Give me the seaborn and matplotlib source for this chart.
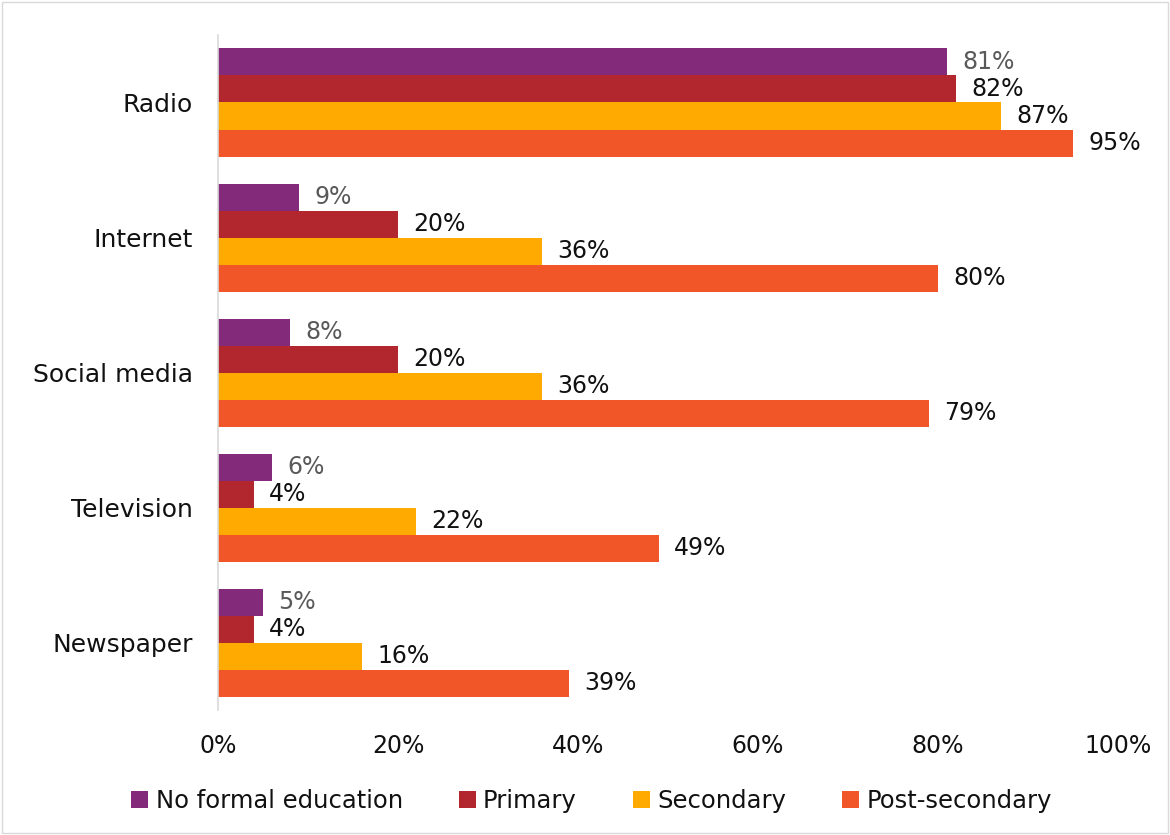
import seaborn as sns
import matplotlib.pyplot as plt
import pandas as pd
from matplotlib.patches import Rectangle

# data
sources = ["Radio", "Internet", "Social media", "Television", "Newspaper"]
levels = ["No formal education", "Primary", "Secondary", "Post-secondary"]
no_formal = [81, 9, 8, 6, 5]
primary = [82, 20, 20, 4, 4]
secondary = [87, 36, 36, 22, 16]
post_secondary = [95, 80, 79, 49, 39]
colors = ["#832A7A", "#B2272D", "#FFAA00", "#F15629"]
xticks = [0, 20, 40, 60, 80, 100]

sns.set_theme(style="white", rc={"axes.linewidth": 1.2,
                                 "text.color": "#111111",
                                 "xtick.color": "#111111",
                                 "ytick.color": "#111111"})
plt.rcParams["font.family"] = ["DejaVu Sans"]

rows = []
for lvl, vals in zip(levels, [no_formal, primary, secondary, post_secondary]):
    for src, v in zip(sources, vals):
        rows.append({"source": src, "level": lvl, "value": v})
df = pd.DataFrame(rows)

fig = plt.figure(figsize=(11.7, 8.35), dpi=100)
ax = fig.add_axes([0.1863, 0.1496, 0.7692, 0.8085])

sns.barplot(data=df, y="source", x="value", hue="level", order=sources,
            hue_order=levels, palette=colors, orient="h", width=0.8,
            saturation=1, linewidth=0, ax=ax, legend=True)

for i, cont in enumerate(ax.containers):
    ax.bar_label(cont, labels=[f"{int(round(b.get_width()))}%" for b in cont],
                 padding=11, fontsize=17,
                 color="#595959" if i == 0 else "#111111")

ax.set_xlim(0, 100)
ax.set_xticks(xticks)
ax.set_xticklabels([f"{t}%" for t in xticks], fontsize=17)
ax.tick_params(axis="y", labelsize=18, length=0, pad=18)
ax.tick_params(axis="x", length=0, pad=17)
ax.set_xlabel("")
ax.set_ylabel("")
for s in ["top", "right", "bottom"]:
    ax.spines[s].set_visible(False)
ax.spines["left"].set_color("#d9d9d9")

ax.legend(loc="center", bbox_to_anchor=(0.415, -0.134), ncol=4, frameon=False,
          fontsize=17.5, handlelength=0.7, handleheight=0.7, handletextpad=0.3,
          columnspacing=2.3)

fig.patches.append(Rectangle((0.002, 0.002), 0.996, 0.996, transform=fig.transFigure,
                             fill=False, edgecolor="#d9d9d9", linewidth=1))

fig.savefig("out.png", dpi=100)
